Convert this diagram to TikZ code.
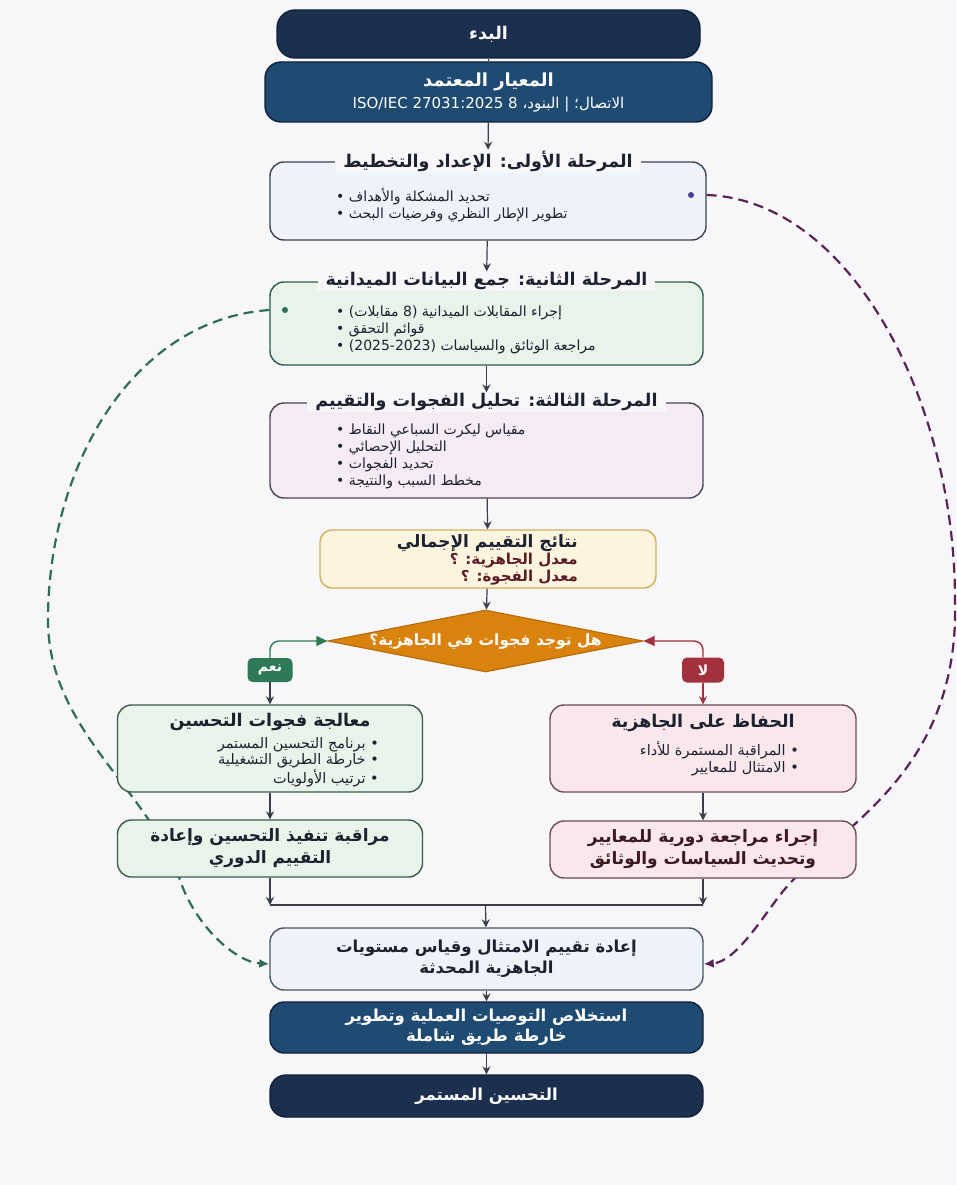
\documentclass[tikz,border=0pt]{standalone}
\usepackage{fontspec}
\setmainfont{DejaVu Sans}
\newfontfamily\ar[Script=Arabic]{DejaVu Sans}
\TeXXeTstate=1
\usetikzlibrary{shapes.geometric,arrows.meta,calc}
\newcommand\rl[1]{\beginR#1\endR}
\definecolor{pagebg}{HTML}{F7F7FA}
\definecolor{navyA}{HTML}{1D2F4E}
\definecolor{navyB}{HTML}{1F4A72}
\definecolor{navyLine}{HTML}{12213A}
\definecolor{pAfill}{HTML}{EEF2FA}
\definecolor{pAline}{HTML}{3E4452}
\definecolor{pBfill}{HTML}{E8F3EA}
\definecolor{pBline}{HTML}{2E5B4B}
\definecolor{pCfill}{HTML}{F5EBF5}
\definecolor{pCline}{HTML}{4B4452}
\definecolor{resfill}{HTML}{FCF4DE}
\definecolor{resline}{HTML}{D4AF5C}
\definecolor{resred}{HTML}{5E1D26}
\definecolor{decfill}{HTML}{D9820E}
\definecolor{decline}{HTML}{B86D0B}
\definecolor{yescol}{HTML}{2E7A57}
\definecolor{nocol}{HTML}{A3303D}
\definecolor{Lfill}{HTML}{E8F3EA}
\definecolor{Lline}{HTML}{3C5A4C}
\definecolor{Rfill}{HTML}{FAE7EC}
\definecolor{Rline}{HTML}{6E4B56}
\definecolor{reasfill}{HTML}{EEF2FA}
\definecolor{reasline}{HTML}{4B5566}
\definecolor{txtdark}{HTML}{1E2230}
\definecolor{Rtxt}{HTML}{3B1A22}
\definecolor{arrcol}{HTML}{3A3F4A}
\definecolor{purpdash}{HTML}{5A2358}
\definecolor{purpdot}{HTML}{4A3A9A}
\definecolor{greendash}{HTML}{2F6E55}
\pgfdeclarelayer{back}
\pgfdeclarelayer{mid}
\pgfsetlayers{back,mid,main}
\begin{document}
\begin{tikzpicture}[x=1pt,y=-1pt,
  box/.style={draw, rounded corners=14pt, line width=1.4pt, inner sep=0pt},
  navy/.style={box, fill=navyA, draw=navyLine, rounded corners=18pt, text=white,
    font={\ar\bfseries\fontsize{17.5}{21}\selectfont}, align=center},
  ptitle/.style={fill=pagebg, inner xsep=8pt, inner ysep=1pt, text=txtdark,
    font={\ar\bfseries\fontsize{17.5}{20}\selectfont}},
  blist/.style={inner sep=0pt, text=txtdark, font={\ar\fontsize{14}{17}\selectfont}},
  btext/.style={text=txtdark, font={\ar\bfseries\fontsize{17}{22}\selectfont}, align=center},
  arr/.style={draw=arrcol, line width=1.2pt, -{Stealth[length=8pt,width=8pt]}},
  lbl/.style={rounded corners=5pt, text=white, inner sep=0pt, minimum width=45pt,
    minimum height=24pt, font={\ar\bfseries\fontsize{14}{16}\selectfont}},
  dashpurp/.style={draw=purpdash, line width=2.2pt, dash pattern=on 10pt off 6pt,
    -{Latex[length=10pt,width=9pt]}},
  dashgreen/.style={draw=greendash, line width=2.2pt, dash pattern=on 10pt off 6pt,
    -{Latex[length=10pt,width=9pt]}}
]
\begin{pgfonlayer}{back}
\fill[pagebg] (0,0) rectangle (956,1185);
\end{pgfonlayer}
\useasboundingbox (0,0) rectangle (956,1185);

% top
\node[navy, minimum width=423pt, minimum height=48pt] (start) at (488.5,34) {\rl{البدء}};
\node[navy, fill=navyB, rounded corners=16pt, minimum width=447pt, minimum height=60pt] (std) at (488.5,92)
  {{\fontsize{18}{22}\selectfont\rl{المعيار المعتمد}}\\[1pt]
   {\mdseries\fontsize{15}{18}\selectfont ISO/IEC 27031:2025 8 \rl{البنود،} | \rl{الاتصال؛}}};

% phase 1
\node[box, fill=pAfill, draw=pAline, minimum width=436pt, minimum height=78pt] (p1) at (488,201) {};
\node[ptitle] (p1t) at (p1.north) {\rl{المرحلة الأولى: الإعداد والتخطيط}};
\node[blist, anchor=west, align=left] (p1b) at (336,205)
  {• \rl{تحديد المشكلة والأهداف}\\ • \rl{تطوير الإطار النظري وفرضيات البحث}};
\node[circle, fill=purpdot, inner sep=0pt, minimum size=6pt] (pdot) at (691,195) {};

% phase 2
\node[box, fill=pBfill, draw=pBline, minimum width=433pt, minimum height=83pt] (p2) at (486.5,323.5) {};
\node[ptitle] (p2t) at (p2.north) {\rl{المرحلة الثانية: جمع البيانات الميدانية}};
\node[blist, anchor=west, align=left] (p2b) at (336,330)
  {• \rl{إجراء المقابلات الميدانية (8 مقابلات)}\\ • \rl{قوائم التحقق}\\
   • (2025-2023) \rl{مراجعة الوثائق والسياسات}};
\node[circle, fill=greendash, inner sep=0pt, minimum size=6pt] (gdot) at (285,310) {};

% phase 3
\node[box, fill=pCfill, draw=pCline, minimum width=433pt, minimum height=95pt] (p3) at (486.5,450.5) {};
\node[ptitle] (p3t) at (p3.north) {\rl{المرحلة الثالثة: تحليل الفجوات والتقييم}};
\node[blist, anchor=west, align=left] (p3b) at (336,456)
  {• \rl{مقياس ليكرت السباعي النقاط}\\ • \rl{التحليل الإحصائي}\\
   • \rl{تحديد الفجوات}\\ • \rl{مخطط السبب والنتيجة}};

% results
\node[box, rounded corners=12pt, fill=resfill, draw=resline, minimum width=336pt, minimum height=58pt] (res) at (488,559) {};
\node[inner sep=0pt, anchor=east, align=right, text=txtdark, font={\ar\bfseries\fontsize{15}{17}\selectfont}] (rest) at (578,560)
  {{\fontsize{17}{19}\selectfont\rl{نتائج التقييم الإجمالي}}\\
   {\color{resred}\rl{معدل الجاهزية: ؟}}\\ {\color{resred}\rl{معدل الفجوة: ؟}}};

% decision
\node[diamond, aspect=5.1, fill=decfill, draw=decline, line width=1.2pt, inner sep=0pt,
  minimum width=315pt, minimum height=62pt, text=white,
  font={\ar\bfseries\fontsize{15.5}{18}\selectfont}] (dec) at (485.5,641) {\rl{هل توجد فجوات في الجاهزية؟}};

\node[lbl, fill=yescol] (yes) at (270,670) {\rl{نعم}};
\node[lbl, fill=nocol, minimum width=42pt, minimum height=25pt] (no) at (703,670) {\rl{لا}};

% left branch
\node[box, fill=Lfill, draw=Lline, minimum width=305pt, minimum height=87pt] (L1) at (270,748.5) {};
\node[text=txtdark, font={\ar\bfseries\fontsize{17.5}{20}\selectfont}] (L1t) at (270,722) {\rl{معالجة فجوات التحسين}};
\node[blist, anchor=east, align=right, font={\ar\fontsize{14.5}{16.5}\selectfont}] (L1b) at (379,762)
  {\rl{برنامج التحسين المستمر}\ •\\ \rl{خارطة الطريق التشغيلية}\ •\\ \rl{ترتيب الأولويات}\ •};
\node[box, fill=Lfill, draw=Lline, minimum width=305pt, minimum height=57pt, btext] (L2) at (270,848.5)
  {\rl{مراقبة تنفيذ التحسين وإعادة}\\ \rl{التقييم الدوري}};

% right branch
\node[box, fill=Rfill, draw=Rline, minimum width=306pt, minimum height=87pt] (R1) at (703,748.5) {};
\node[text=txtdark, font={\ar\bfseries\fontsize{17.5}{20}\selectfont}] (R1t) at (703,723) {\rl{الحفاظ على الجاهزية}};
\node[blist, anchor=east, align=right, font={\ar\fontsize{14.5}{16.5}\selectfont}] (R1b) at (799,759)
  {\rl{المراقبة المستمرة للأداء}\ •\\ \rl{الامتثال للمعايير}\ •};
\node[box, fill=Rfill, draw=Rline, minimum width=306pt, minimum height=57pt, btext, text=Rtxt] (R2) at (703,849.5)
  {\rl{إجراء مراجعة دورية للمعايير}\\ \rl{وتحديث السياسات والوثائق}};

% merge
\coordinate (mL) at (270,905);
\coordinate (mR) at (703,905);
\coordinate (mC) at (485.5,905);

% bottom
\node[box, fill=reasfill, draw=reasline, minimum width=433pt, minimum height=62pt, btext,
  font={\ar\bfseries\fontsize{16.5}{21}\selectfont}] (reas) at (486.5,959)
  {\rl{إعادة تقييم الامتثال وقياس مستويات}\\ \rl{الجاهزية المحدثة}};
\node[navy, fill=navyB, rounded corners=14pt, minimum width=433pt, minimum height=51pt,
  font={\ar\bfseries\fontsize{16.5}{20}\selectfont}] (rec) at (486.5,1027.5)
  {\rl{استخلاص التوصيات العملية وتطوير}\\ \rl{خارطة طريق شاملة}};
\node[navy, rounded corners=16pt, minimum width=433pt, minimum height=42pt,
  font={\ar\bfseries\fontsize{16.5}{20}\selectfont}] (final) at (486.5,1096) {\rl{التحسين المستمر}};

% connectors
\draw[draw=arrcol, line width=1pt] (start) -- (std);
\draw[arr] (std) -- (p1t);
\draw[arr] (p1) -- (p2t);
\draw[arr] (p2) -- (p3t);
\draw[arr] (p3) -- (res);
\draw[arr] (res) -- (dec);
\draw[draw=yescol, line width=1.4pt, rounded corners=9pt, -{Triangle[length=11pt,width=10pt]}] (yes.north) |- (dec.west);
\draw[draw=nocol, line width=1.4pt, rounded corners=9pt, -{Triangle[length=11pt,width=10pt]}] (no.north) |- (dec.east);
\draw[arr] (yes) -- (L1);
\draw[arr, draw=nocol] (no) -- (R1);
\draw[arr] (L1) -- (L2);
\draw[arr] (R1) -- (R2);
\draw[arr] (L2) -- (mL);
\draw[arr] (R2) -- (mR);
\draw[draw=arrcol, line width=1.2pt] (mL) -- (mR);
\draw[arr] (mC) -- (reas);
\draw[arr] (reas) -- (rec);
\draw[arr] (rec) -- (final);

\begin{pgfonlayer}{mid}
\draw[dashpurp] (p1.east |- pdot) .. controls (850,200) and (955,400) .. (955,600)
  .. controls (960,780) and (830,830) .. (780,895)
  .. controls (760,921) and (735,962) .. ($(reas.east)+(0,5)$);
\draw[dashgreen] (p2.west |- gdot) .. controls (130,320) and (48,470) .. (48,620)
  .. controls (48,730) and (150,790) .. (180,880)
  .. controls (195,925) and (235,962) .. ($(reas.west)+(0,5)$);
\end{pgfonlayer}
\end{tikzpicture}
\end{document}
